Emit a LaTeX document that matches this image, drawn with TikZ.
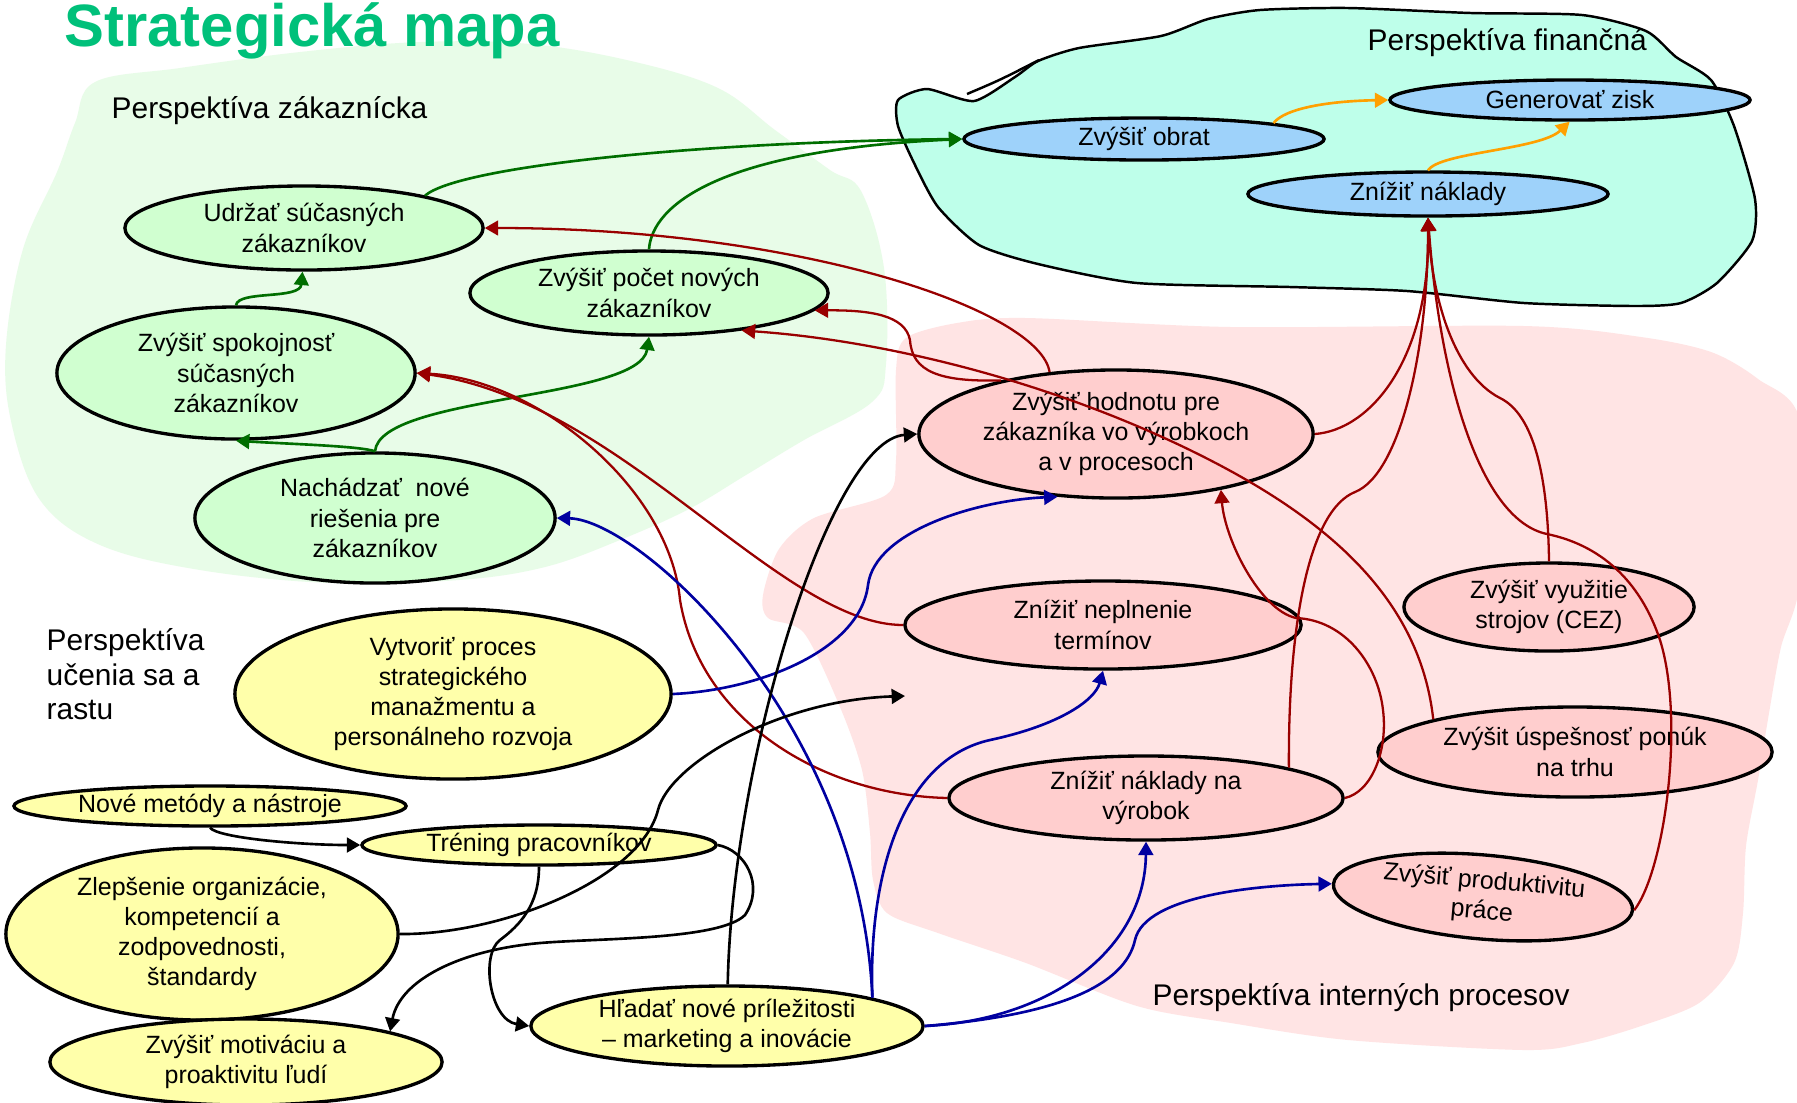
\documentclass[tikz,border=0pt]{standalone}
\usepackage{fontspec}
\setmainfont{Liberation Sans}
\usetikzlibrary{shapes.geometric,arrows.meta}
\definecolor{titlegreen}{RGB}{0,192,122}
\definecolor{zakbg}{RGB}{232,252,232}
\definecolor{finbg}{RGB}{190,255,234}
\definecolor{procbg}{RGB}{255,228,228}
\definecolor{zakfill}{RGB}{208,255,208}
\definecolor{finfill}{RGB}{158,210,250}
\definecolor{procfill}{RGB}{255,206,206}
\definecolor{ucfill}{RGB}{255,255,170}
\definecolor{linkred}{RGB}{153,0,0}
\definecolor{linkblue}{RGB}{0,0,160}
\definecolor{linkgreen}{RGB}{0,110,0}
\definecolor{linkorange}{RGB}{255,160,0}
\tikzset{
  goal/.style={ellipse, draw=black, line width=0.95pt, inner sep=0pt, align=center, font=\fontsize{7.1}{8.6}\selectfont},
  persp/.style={font=\fontsize{8.5}{9.8}\selectfont, inner sep=0pt, align=left},
  link/.style={line width=0.75pt, -{Triangle[length=3.8pt,width=4.2pt]}},
  redlink/.style={link, line width=0.65pt, linkred},
}
\begin{document}
\begin{tikzpicture}[x=0.01cm,y=-0.01cm]
\useasboundingbox (0,0) rectangle (1797,1102);
\fill[white] (0,0) rectangle (1797,1102);
\fill[zakbg] plot[smooth cycle, tension=0.6] coordinates {(95,82) (180,68) (300,52) (420,42) (530,44) (631,61) (718,88) (775,130) (830,170) (861,191) (884,268) (886,364) (872,402) (804,440) (746,475) (689,509) (620,540) (545,567) (459,580) (330,583) (200,570) (100,545) (40,500) (11,421) (6,345) (23,249) (57,172) (75,123)};
\fill[procbg] plot[smooth cycle, tension=0.5] coordinates {(906,338) (957,323) (1026,318) (1231,327) (1524,326) (1641,337) (1711,352) (1758,379) (1800,421) (1800,580) (1781,647) (1769,713) (1758,780) (1746,846) (1743,913) (1734,963) (1699,1003) (1641,1026) (1582,1043) (1524,1050) (1348,1040) (1231,1023) (1137,1006) (1026,963) (938,933) (887,913) (873,880) (870,833) (862,770) (840,707) (804,633) (768,618) (763,595) (779,549) (814,518) (886,495) (896,460) (896,370)};
\filldraw[fill=finbg, draw=black, line width=0.7pt] plot[smooth cycle, tension=0.4] coordinates {(898,100) (927,89) (974,101) (1015,77) (1038,61) (1079,48) (1161,36) (1208,19) (1260,10) (1348,8) (1471,13) (1582,15) (1646,31) (1676,57) (1711,80) (1734,126) (1755,199) (1752,241) (1717,283) (1681,303) (1635,306) (1524,303) (1407,291) (1290,287) (1137,283) (1038,264) (979,245) (938,207) (915,165) (898,126)};
\draw[line width=0.7pt] (967,94) .. controls (1000,80) .. (1039,60);
\node[font=\fontsize{17}{20}\selectfont\bfseries, text=titlegreen, anchor=base west, inner sep=0pt] (title) at (64,46) {Strategická mapa};
\node[persp, anchor=base west] (lblzak) at (111,118) {Perspektíva zákaznícka};
\node[persp, anchor=base west] (lblfin) at (1367,50) {Perspektíva finančná};
\node[persp, anchor=base west] (lblint) at (1152,1005) {Perspektíva interných procesov};
\node[persp, anchor=north west] (lbluc) at (46,628) {Perspektíva\\učenia sa a\\rastu};
\node[goal, fill=zakfill, minimum width=3.58cm, minimum height=0.84cm] (udrzat) at (304,228) {Udržať súčasných\\zákazníkov};
\node[goal, fill=zakfill, minimum width=3.58cm, minimum height=0.84cm] (pocet) at (649,293) {Zvýšiť počet nových\\zákazníkov};
\node[goal, fill=zakfill, minimum width=3.58cm, minimum height=1.32cm] (spokoj) at (236,373) {Zvýšiť spokojnosť\\súčasných\\zákazníkov};
\node[goal, fill=zakfill, minimum width=3.6cm, minimum height=1.3cm] (nachadz) at (375,518) {Nachádzať\ \ nové\\riešenia pre\\zákazníkov};
\node[goal, fill=finfill, minimum width=3.6cm, minimum height=0.42cm] (obrat) at (1144,139) {Zvýšiť obrat};
\node[goal, fill=finfill, minimum width=3.6cm, minimum height=0.4cm] (zisk) at (1570,100) {Generovať zisk};
\node[goal, fill=finfill, minimum width=3.6cm, minimum height=0.44cm] (naklady) at (1428,194) {Znížiť náklady};
\node[goal, fill=procfill, minimum width=3.94cm, minimum height=1.28cm] (hodnota) at (1116,434) {Zvýšiť hodnotu pre\\zákazníka vo výrobkoch\\a v procesoch};
\node[goal, fill=procfill, minimum width=3.96cm, minimum height=0.88cm] (neplnenie) at (1103,625) {Znížiť neplnenie\\termínov};
\node[goal, fill=procfill, minimum width=2.9cm, minimum height=0.88cm] (vyuzitie) at (1549,607) {Zvýšiť využitie\\strojov (CEZ)};
\node[goal, fill=procfill, minimum width=3.94cm, minimum height=0.9cm] (uspesnost) at (1575,752) {Zvýšit úspešnosť ponúk\\na trhu};
\node[goal, fill=procfill, minimum width=3.94cm, minimum height=0.84cm] (vyrobok) at (1146,798) {Znížiť náklady na\\výrobok};
\node[goal, fill=procfill, rotate=-5, minimum width=3cm, minimum height=0.84cm] (produkt) at (1483,897) {Zvýšiť produktivitu\\práce};
\node[goal, fill=ucfill, minimum width=4.36cm, minimum height=1.7cm] (vytvorit) at (453,694) {Vytvoriť proces\\strategického\\manažmentu a\\personálneho rozvoja};
\node[goal, fill=ucfill, minimum width=3.92cm, minimum height=0.4cm] (metody) at (210,806) {Nové metódy a nástroje};
\node[goal, fill=ucfill, minimum width=3.54cm, minimum height=0.4cm] (trening) at (539,845) {Tréning pracovníkov};
\node[goal, fill=ucfill, minimum width=3.92cm, minimum height=1.72cm] (zlepsenie) at (202,934) {Zlepšenie organizácie,\\kompetencií a\\zodpovednosti,\\štandardy};
\node[goal, fill=ucfill, minimum width=3.92cm, minimum height=0.86cm] (motiv) at (246,1062) {Zvýšiť motiváciu a\\proaktivitu ľudí};
\node[goal, fill=ucfill, minimum width=3.92cm, minimum height=0.8cm] (hladat) at (727,1026) {Hľadať nové príležitosti\\– marketing a inovácie};
\coordinate (openend) at (905,696);
\draw[link, linkgreen] (udrzat.15) .. controls (460,166) and (700,142) .. (obrat.west);
\draw[link, linkgreen] (pocet.north) .. controls (652,205) and (720,150) .. (obrat.west);
\draw[link, linkgreen] (spokoj.north) .. controls (238,290) and (300,300) .. (udrzat.-92);
\draw[link, linkgreen] (nachadz.north) .. controls (360,446) and (290,444) .. (spokoj.south);
\draw[link, linkgreen] (nachadz.north) .. controls (380,395) and (640,400) .. (pocet.south);
\draw[link, linkorange] (obrat.7) .. controls (1285,108) and (1330,101) .. (zisk.west);
\draw[link, linkorange] (naklady.north) .. controls (1440,152) and (1540,150) .. (zisk.-91);
\draw[redlink] (hodnota.137) .. controls (1040,310) and (800,228) .. (udrzat.east);
\draw[redlink] (hodnota.155) .. controls (940,382) and (912,372) .. (910,340) .. controls (905,315) and (870,310) .. (pocet.-6);
\draw[redlink] (uspesnost.167) .. controls (1420,600) and (1330,520) .. (1200,455) .. controls (1050,380) and (880,340) .. (pocet.-22);
\draw[redlink] (neplnenie.west) .. controls (780,625) and (620,400) .. (spokoj.east);
\draw[redlink] (vyrobok.west) .. controls (820,795) and (700,720) .. (680,600) .. controls (670,490) and (540,380) .. (spokoj.east);
\draw[redlink] (hodnota.east) .. controls (1370,430) and (1430,360) .. (naklady.south);
\draw[redlink] (vyrobok.12) .. controls (1288,620) and (1310,510) .. (1355,492) .. controls (1400,474) and (1428,350) .. (naklady.south);
\draw[redlink] (vyuzitie.north) .. controls (1548,480) and (1535,415) .. (1500,398) .. controls (1455,375) and (1432,300) .. (naklady.south);
\draw[redlink] (produkt.east) .. controls (1665,870) and (1685,720) .. (1660,640) .. controls (1640,580) and (1600,545) .. (1547,534) .. controls (1480,520) and (1440,380) .. (naklady.south);
\draw[redlink] (vyrobok.east) .. controls (1372,792) and (1388,750) .. (1383,710) .. controls (1378,665) and (1345,620) .. (1296,618) .. controls (1260,610) and (1225,540) .. (hodnota.-28);
\draw[link, linkblue] (vytvorit.east) .. controls (760,690) and (860,650) .. (868,585) .. controls (875,530) and (980,500) .. (hodnota.-133);
\draw[link, linkblue] (hladat.11) .. controls (860,720) and (640,520) .. (nachadz.east);
\draw[link, linkblue] (hladat.11) .. controls (868,880) and (900,760) .. (990,740) .. controls (1060,725) and (1095,700) .. (neplnenie.south);
\draw[link, linkblue] (hladat.east) .. controls (1050,1020) and (1145,950) .. (vyrobok.south);
\draw[link, linkblue] (hladat.east) .. controls (1060,1015) and (1125,985) .. (1135,940) .. controls (1145,895) and (1260,885) .. (produkt.west);
\draw[link] (hladat.89) .. controls (732,760) and (830,440) .. (hodnota.west);
\draw[link] (trening.south) .. controls (539,905) and (520,925) .. (500,940) .. controls (480,955) and (490,1020) .. (hladat.west);
\draw[link] (trening.east) .. controls (745,850) and (765,885) .. (745,915) .. controls (720,940) and (600,938) .. (540,943) .. controls (460,950) and (400,980) .. (motiv.12);
\draw[link] (zlepsenie.east) .. controls (500,935) and (640,880) .. (658,810) .. controls (670,763) and (780,700) .. (openend);
\draw[link] (metody.south) .. controls (218,838) and (300,845) .. (trening.west);
\end{tikzpicture}
\end{document}
